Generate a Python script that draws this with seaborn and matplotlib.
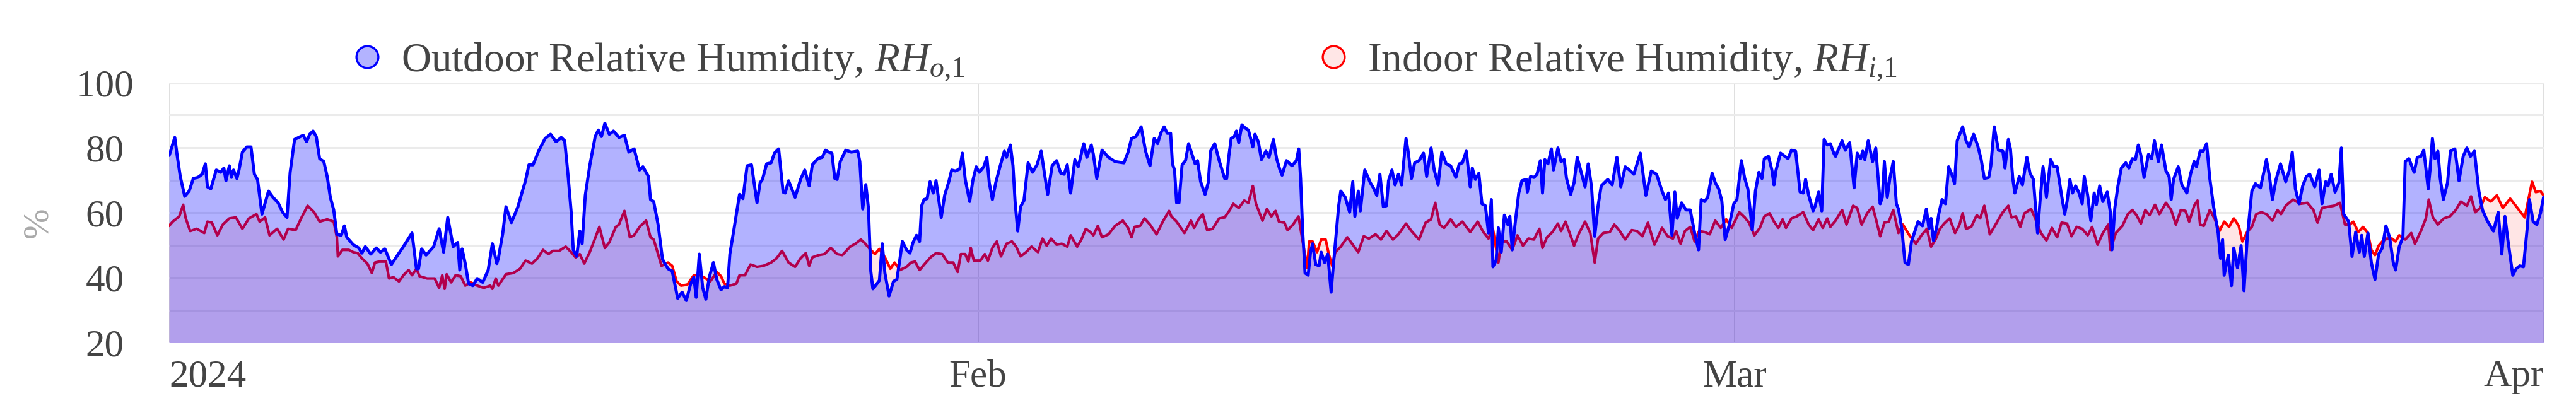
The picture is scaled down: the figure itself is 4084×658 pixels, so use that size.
import numpy as np
import pandas as pd
import matplotlib
matplotlib.use("Agg")
import matplotlib.pyplot as plt
from matplotlib.lines import Line2D
import seaborn as sns

# ---------------- data ----------------
start_date = "2024-01-01"

outdoor_day = [0, 0.02, 0.22, 0.31, 0.43, 0.6, 0.77, 0.93, 1.1, 1.27, 1.39, 1.47, 1.6, 1.81, 1.98, 2.1, 2.18, 2.31, 2.39, 2.47, 2.6, 2.68, 2.81, 2.98, 3.14, 3.27, 3.39, 3.56, 3.81, 3.98, 4.18, 4.35, 4.52, 4.64, 4.81, 5.14, 5.27, 5.39, 5.52, 5.64, 5.77, 5.93, 6.06, 6.18, 6.31, 6.43, 6.6, 6.72, 6.81, 7.06, 7.27, 7.39, 7.52, 7.73, 7.94, 8.1, 8.27, 8.52, 8.81, 8.98, 9.31, 9.48, 9.56, 9.68, 9.85, 10.14, 10.35, 10.52, 10.68, 10.89, 11.06, 11.14, 11.23, 11.35, 11.48, 11.64, 11.81, 12.02, 12.23, 12.39, 12.56,
               12.62, 12.79, 12.91, 13.12, 13.37, 13.54, 13.66, 13.79, 13.95, 14.16, 14.41, 14.62, 14.83, 15.03, 15.16, 15.28, 15.41, 15.49, 15.62, 15.74, 15.83, 15.95, 16.12, 16.33, 16.45, 16.57, 16.7, 16.87, 17.03, 17.24, 17.45, 17.62, 17.82, 18.03, 18.16, 18.37, 18.45, 18.57, 18.74, 18.91, 19.12, 19.28, 19.49, 19.66, 19.82, 19.99, 20.11, 20.2, 20.32, 20.45, 20.57, 20.7, 20.86, 20.99, 21.15, 21.28, 21.4, 21.49, 21.65, 21.86, 21.99, 22.15, 22.32, 22.53, 22.65, 22.74, 22.9, 23.07, 23.2, 23.36, 23.53, 23.61, 23.74, 23.99, 24.2, 24.36, 24.53, 24.65, 24.86, 25.03, 25.15, 25.28, 25.4,
               25.51, 25.6, 25.72, 25.93, 26.14, 26.39, 26.47, 26.58, 26.7, 26.8, 26.89, 26.97, 27.1, 27.22, 27.33, 27.43, 27.59, 27.76, 27.89, 28.01, 28.1, 28.26, 28.39, 28.51, 28.64, 28.76, 28.84, 28.93, 29.05, 29.16, 29.28, 29.39, 29.59, 29.72, 29.88, 29.99, 30.13, 30.3, 30.4, 30.51, 30.68, 30.8, 30.93, 31.05, 31.22, 31.34, 31.43, 31.55, 31.68, 31.84, 32.01, 32.09, 32.24, 32.34, 32.42, 32.52, 32.63, 32.76, 32.92, 33.09, 33.26, 33.42, 33.55, 33.67, 33.84, 34.01, 34.17, 34.3, 34.42, 34.55, 34.71, 34.84, 35.05, 35.17, 35.34, 35.42, 35.55, 35.75, 36.0, 36.25, 36.59, 36.75, 36.88, 37.05, 37.25, 37.42, 37.59, 37.75, 37.88, 38.0, 38.13, 38.25, 38.38,
               38.45, 38.53, 38.61, 38.7, 38.82, 38.95, 39.07, 39.2, 39.32, 39.41, 39.53, 39.7, 39.82, 39.91, 40.07, 40.24, 40.45, 40.53, 40.61, 40.7, 40.82, 40.9, 40.99, 41.11, 41.24, 41.36, 41.53, 41.61, 41.74, 41.86, 42.03, 42.15, 42.32, 42.44, 42.57, 42.65, 42.82, 43.03, 43.2, 43.29, 43.36, 43.44, 43.53, 43.65, 43.74, 43.82, 43.94, 44.07, 44.15, 44.28, 44.4, 44.53, 44.61, 44.69, 44.82, 44.9, 45.07, 45.24, 45.36, 45.44, 45.57, 45.65, 45.82, 46.03, 46.15, 46.28, 46.4, 46.53, 46.65, 46.73, 46.86, 46.98, 47.11, 47.23, 47.32, 47.4, 47.48, 47.61, 47.73, 47.9, 48.07, 48.19, 48.36, 48.48, 48.63, 48.77, 48.94, 49.11, 49.31, 49.44, 49.56, 49.71, 49.86, 49.94, 50.06, 50.19, 50.31, 50.44, 50.56, 50.67, 50.73, 50.85, 50.94,
               51.05, 51.17, 51.3, 51.38, 51.47, 51.59, 51.72, 51.84, 52.01, 52.05, 52.17, 52.3, 52.42, 52.55, 52.63, 52.72, 52.84, 52.97, 53.05, 53.22, 53.34, 53.46, 53.55, 53.71, 53.84, 53.96, 54.09, 54.26, 54.38, 54.51, 54.63, 54.76, 54.88, 55.13, 55.3, 55.48, 55.63, 55.8, 55.96, 56.13, 56.38, 56.59, 56.8, 57.0, 57.21, 57.34, 57.46, 57.59, 57.7, 57.79, 57.96, 58.13, 58.29, 58.46, 58.61, 58.71, 58.84, 58.96, 59.13, 59.25, 59.38, 59.5, 59.63, 59.79, 59.96, 60.08, 60.25, 60.38, 60.5, 60.67, 60.79, 60.92, 61.04, 61.13, 61.29, 61.42, 61.5, 61.58, 61.75, 61.87, 62.04, 62.17, 62.33, 62.5, 62.62, 62.71, 62.83, 63.0, 63.08, 63.21, 63.33, 63.42, 63.54, 63.66, 63.79,
               63.86, 63.94, 64.11, 64.23, 64.4, 64.57, 64.69, 64.82, 64.9, 64.98, 65.11, 65.28, 65.4, 65.57, 65.65, 65.73, 65.84, 65.94, 66.07, 66.19, 66.27, 66.4, 66.52, 66.65, 66.77, 66.9, 67.02, 67.19, 67.34, 67.44, 67.52, 67.61, 67.73, 67.82, 67.94, 68.07, 68.19, 68.31, 68.42, 68.52, 68.73, 68.86, 68.98, 69.15, 69.31, 69.44, 69.56, 69.73, 69.81, 69.94, 70.1, 70.27, 70.35, 70.48, 70.56, 70.65, 70.73, 70.9, 71.02, 71.19, 71.31, 71.44, 71.6, 71.7, 71.81, 71.94, 72.1, 72.23, 72.35, 72.52, 72.64, 72.73, 72.84, 72.94, 73.06, 73.19, 73.31, 73.39, 73.52, 73.64, 73.77, 73.85, 73.98, 74.1, 74.27, 74.39, 74.45, 74.56, 74.68, 74.81, 74.98, 75.1, 75.23, 75.35, 75.46, 75.56, 75.68, 75.85, 75.97, 76.08, 76.23, 76.35, 76.52, 76.64, 76.72, 76.81,
               76.99, 77.13, 77.32, 77.46, 77.6, 77.69, 77.83, 77.95, 78.08, 78.2, 78.34, 78.52, 78.61, 78.69, 78.75, 78.91, 79.03, 79.12, 79.26, 79.4, 79.51, 79.63, 79.81, 79.95, 80.14, 80.28, 80.37, 80.48, 80.6, 80.74, 80.91, 81.11, 81.25, 81.36, 81.48, 81.62, 81.76, 81.9, 82.03, 82.22, 82.39, 82.5, 82.64, 82.73, 82.85, 83.0, 83.15, 83.24, 83.33, 83.52, 83.65, 83.79, 83.93, 84.02, 84.12, 84.26, 84.39, 84.53, 84.67, 84.81, 84.95, 85.09, 85.23, 85.32, 85.46, 85.6, 85.69, 85.83, 86.03, 86.15, 86.29, 86.4, 86.57, 86.64, 86.73, 86.83, 86.94, 87.03, 87.15, 87.31, 87.42, 87.59, 87.75, 87.91, 88.05, 88.19, 88.34, 88.51, 88.65, 88.83, 89.07, 89.25, 89.39, 89.51, 89.62, 89.81, 89.94, 90.08, 90.22, 90.36, 90.45, 90.59, 90.73, 90.87, 90.99]

outdoor_rh = [77.6, 77.9, 83.1, 77.6, 71.1, 65.0, 66.6, 70.5, 70.8, 71.8, 75.0, 67.9, 67.3, 73.1, 72.4, 73.7, 69.8, 74.4, 70.8, 73.1, 70.5, 73.1, 78.6, 80.2, 80.2, 71.8, 70.2, 59.5, 66.6, 64.7, 63.0, 60.1, 58.5, 72.4, 82.5, 83.8, 81.8, 84.1, 85.1, 83.4, 76.6, 75.7, 71.1, 64.7, 60.8, 53.3, 53.0, 55.9, 52.4, 50.1, 49.1, 47.5, 49.5, 47.2, 49.1, 47.8, 48.8, 44.0, 47.5, 49.5, 53.7, 42.7, 42.7, 48.8, 46.9, 49.5, 55.0, 47.8, 58.5, 49.5, 50.8, 42.3, 48.8, 44.3, 38.1, 37.5, 39.7, 38.5, 42.3, 50.4, 44.3,
              45.9, 53.7, 61.8, 56.9, 61.8, 66.6, 69.8, 74.7, 74.7, 78.9, 82.8, 84.1, 81.8, 83.1, 82.1, 72.4, 60.1, 48.5, 46.5, 54.3, 50.4, 65.3, 74.4, 83.4, 85.4, 83.4, 87.5, 84.1, 85.1, 83.1, 83.8, 78.6, 79.6, 73.1, 74.1, 71.1, 64.0, 63.4, 56.3, 45.6, 42.7, 42.0, 33.6, 35.5, 32.9, 38.1, 40.1, 33.9, 47.2, 36.8, 33.3, 40.1, 44.6, 39.4, 36.2, 37.2, 36.8, 47.2, 55.0, 65.6, 64.3, 74.4, 74.7, 63.0, 69.2, 70.2, 75.0, 75.3, 78.3, 79.6, 66.3, 66.0, 69.8, 64.7, 70.2, 73.1, 68.2, 74.7, 76.6, 77.0, 79.2, 78.6, 78.3,
              70.5, 70.2, 75.7, 79.2, 78.6, 78.9, 75.7, 61.1, 68.6, 61.4, 42.0, 36.5, 37.8, 39.1, 50.4, 41.4, 34.3, 38.8, 39.4, 45.9, 51.1, 48.5, 47.5, 50.8, 53.0, 51.1, 62.1, 64.0, 64.3, 69.5, 66.0, 69.8, 58.5, 65.3, 69.5, 73.1, 72.8, 73.4, 78.3, 70.2, 63.4, 69.8, 74.1, 72.4, 74.1, 77.0, 69.2, 64.0, 69.2, 74.1, 78.9, 77.0, 80.8, 74.4, 63.4, 54.3, 61.8, 63.7, 75.3, 72.4, 74.7, 78.9, 71.8, 65.6, 74.4, 76.0, 72.1, 71.8, 74.7, 66.0, 76.3, 74.1, 81.2, 77.0, 80.8, 77.9, 70.5, 79.2, 77.0, 75.7, 75.3, 78.6, 82.8, 83.4, 86.4, 78.9, 74.4, 82.8, 81.2, 84.4, 86.4, 84.4, 84.4,
              75.0, 73.1, 63.0, 63.0, 74.7, 76.0, 81.2, 77.9, 75.0, 76.0, 69.5, 65.6, 69.2, 78.9, 81.2, 76.0, 70.5, 70.5, 77.3, 82.8, 83.4, 85.1, 81.5, 87.0, 86.0, 85.4, 80.2, 84.1, 81.8, 76.3, 78.9, 77.0, 82.5, 76.6, 73.1, 71.5, 76.0, 74.4, 76.0, 79.6, 70.5, 54.3, 41.4, 40.7, 47.8, 50.4, 44.0, 43.6, 47.8, 44.6, 47.2, 35.5, 43.3, 50.4, 62.1, 66.6, 64.7, 60.1, 69.5, 58.8, 66.6, 60.5, 73.1, 69.2, 67.6, 65.3, 71.8, 61.8, 62.1, 69.8, 73.1, 68.5, 71.8, 68.5, 76.3, 82.8, 78.9, 70.5, 75.3, 76.0, 78.3, 71.1, 79.9, 73.1, 68.5, 78.6, 75.0, 74.4, 70.8, 75.0, 75.3, 78.9, 67.9, 73.7, 70.2, 72.1, 62.7, 62.1, 53.7, 64.0, 43.3, 45.2, 55.3,
              47.8, 59.2, 56.3, 58.8, 48.5, 57.2, 66.0, 69.8, 70.2, 66.3, 71.1, 70.8, 71.8, 76.0, 66.0, 76.3, 75.0, 79.6, 73.1, 79.9, 75.7, 76.3, 70.5, 65.6, 69.2, 77.0, 73.1, 67.9, 75.0, 67.9, 52.7, 62.1, 68.2, 70.2, 68.5, 77.0, 67.9, 74.1, 73.1, 71.8, 78.3, 65.3, 72.8, 71.8, 66.6, 64.0, 66.0, 53.0, 66.3, 58.2, 63.0, 60.8, 60.8, 53.7, 48.5, 64.0, 63.4, 64.7, 72.1, 69.2, 67.3, 63.7, 51.7, 56.3, 62.7, 64.0, 76.0, 70.5, 67.3, 54.6, 66.6, 72.4, 70.5, 76.6, 77.3, 73.1, 68.5, 73.1, 78.3, 77.6, 76.6, 79.2, 78.9, 66.3, 66.0, 70.2, 65.3, 60.5, 62.1, 66.3, 60.5, 82.5, 80.8, 81.2, 78.3,
              77.3, 78.9, 82.1, 79.2, 81.5, 67.6, 78.3, 76.6, 78.9, 76.3, 82.1, 75.7, 79.9, 62.7, 64.7, 75.7, 64.7, 70.5, 75.7, 62.7, 61.1, 55.0, 44.6, 44.0, 51.1, 54.3, 57.2, 55.9, 61.1, 55.0, 58.2, 51.4, 55.3, 59.8, 64.0, 62.7, 74.1, 71.8, 68.9, 82.1, 86.4, 82.1, 80.2, 84.1, 80.5, 76.3, 70.5, 70.8, 74.4, 86.4, 79.2, 78.9, 73.7, 82.5, 79.6, 70.5, 66.0, 71.1, 68.5, 77.0, 72.1, 70.2, 53.7, 64.0, 74.1, 64.7, 76.3, 74.1, 74.1, 65.3, 59.5, 63.4, 70.2, 66.0, 68.2, 66.0, 62.7, 71.1, 65.3, 57.5, 66.0, 62.4, 68.2, 63.4, 66.3, 60.1, 48.5, 61.4, 68.2, 73.7, 75.3, 73.7, 76.6, 76.3, 80.8, 77.6, 70.8, 77.9, 76.6, 82.1, 75.7, 80.8, 72.8, 71.1, 64.0, 70.2,
              74.1, 68.5, 66.0, 71.8, 75.7, 74.1, 78.9, 78.9, 81.2, 70.5, 62.1, 53.7, 45.9, 51.7, 40.7, 46.9, 37.5, 49.1, 43.0, 49.8, 35.9, 51.7, 66.6, 68.9, 67.6, 72.8, 76.3, 71.5, 64.0, 70.2, 75.0, 69.5, 73.1, 78.6, 67.3, 62.7, 68.2, 71.1, 71.8, 67.9, 73.1, 62.7, 69.5, 68.2, 71.8, 66.3, 69.2, 79.9, 59.5, 57.2, 46.5, 54.0, 47.8, 53.0, 46.5, 53.7, 44.6, 39.4, 47.2, 49.1, 55.9, 52.4, 44.6, 42.3, 49.5, 52.4, 75.7, 76.6, 72.4, 77.0, 77.3, 79.2, 67.3, 73.1, 82.8, 76.6, 78.9, 70.5, 64.0, 69.2, 78.9, 79.6, 69.8, 77.3, 79.9, 77.3, 78.9, 66.6, 60.8, 57.5, 54.3, 60.1, 47.2, 58.8, 51.7, 40.7, 42.7, 43.6, 43.3, 55.0, 64.0, 57.2, 56.3, 59.8, 64.7]

indoor_day = [0, 0.14, 0.39, 0.54, 0.64, 0.81, 1.06, 1.35, 1.47, 1.64, 1.85, 2.06, 2.31, 2.56, 2.81, 3.06, 3.35, 3.47, 3.68, 3.85, 4.14, 4.39, 4.56, 4.85, 5.06, 5.31, 5.56, 5.77, 6.06, 6.31, 6.43, 6.47, 6.64, 6.89, 7.06, 7.23, 7.39, 7.6, 7.77, 7.89, 8.06, 8.31, 8.43, 8.6, 8.81, 8.98, 9.18, 9.31, 9.48, 9.6, 9.89, 10.18, 10.35, 10.47, 10.56, 10.64, 10.81, 10.98, 11.18, 11.35, 11.56, 11.81, 12.06, 12.31, 12.39, 12.52,
              12.62, 12.91, 13.2, 13.45, 13.66, 13.91, 14.12, 14.33, 14.54, 14.7, 14.95, 15.2, 15.41, 15.58, 15.74, 15.91, 16.12, 16.28, 16.49, 16.7, 16.87, 17.12, 17.24, 17.45, 17.66, 17.82, 18.03, 18.28, 18.45, 18.57, 18.74, 18.87, 19.12, 19.28, 19.45, 19.62, 19.86, 20.11, 20.36, 20.57, 20.74, 20.99, 21.15, 21.28, 21.49, 21.74, 21.86, 22.07, 22.28, 22.53, 22.78, 23.07, 23.28, 23.49, 23.74, 23.99, 24.2, 24.4, 24.53, 24.65, 24.9, 25.11, 25.36,
              25.6, 25.8, 26.1, 26.3, 26.51, 26.68, 26.85, 27.05, 27.22, 27.43, 27.64, 27.8, 28.01, 28.26, 28.43, 28.59, 28.76, 28.97, 29.18, 29.39, 29.63, 29.84, 30.05, 30.22, 30.34, 30.51, 30.63, 30.72, 30.84, 31.09, 31.26, 31.38, 31.55, 31.72, 31.88, 32.09, 32.3, 32.46, 32.63, 32.84, 33.05, 33.3, 33.47, 33.63, 33.8, 34.01, 34.21, 34.42, 34.55, 34.8, 34.96, 35.13, 35.3, 35.42, 35.59, 35.75, 36.0, 36.25, 36.55, 36.75, 36.88, 37.0, 37.21, 37.38, 37.59, 37.84, 38.08, 38.32,
              38.41, 38.61, 38.91, 39.16, 39.28, 39.45, 39.61, 39.78, 39.99, 40.24, 40.45, 40.65, 40.78, 40.99, 41.2, 41.36, 41.53, 41.65, 41.9, 42.07, 42.24, 42.4, 42.53, 42.74, 42.86, 43.07, 43.28, 43.36, 43.44, 43.61, 43.69, 43.82, 43.99, 44.15, 44.32, 44.44, 44.57, 44.69, 44.9, 45.15, 45.36, 45.57, 45.78, 45.98, 46.23, 46.44, 46.65, 46.9, 47.11, 47.4, 47.61, 47.9, 48.15, 48.36, 48.52, 48.69, 48.86, 49.11, 49.31, 49.56, 49.86, 50.15, 50.36, 50.56, 50.73, 50.94,
              51.05, 51.26, 51.47, 51.67, 51.88, 52.09, 52.3, 52.51, 52.63, 52.8, 53.01, 53.22, 53.34, 53.51, 53.67, 53.84, 54.01, 54.26, 54.46, 54.63, 54.76, 54.96, 55.21, 55.38, 55.59, 55.8, 56.05, 56.25, 56.46, 56.67, 56.92, 57.21, 57.42, 57.63, 57.75, 57.92, 58.09, 58.29, 58.46, 58.63, 58.84, 59.04, 59.25, 59.46, 59.67, 59.88, 60.17, 60.38, 60.54, 60.75, 60.96, 61.13, 61.33, 61.5, 61.67, 61.83, 61.96, 62.17, 62.37, 62.62, 62.83, 63.0, 63.21, 63.37, 63.54, 63.66,
              63.86, 64.11, 64.28, 64.53, 64.69, 64.86, 65.07, 65.28, 65.4, 65.57, 65.73, 65.9, 66.07, 66.27, 66.44, 66.69, 66.94, 67.15, 67.36, 67.52, 67.69, 67.86, 68.02, 68.23, 68.44, 68.61, 68.73, 68.86, 69.06, 69.27, 69.4, 69.56, 69.77, 69.94, 70.15, 70.27, 70.48, 70.6, 70.77, 70.94, 71.1, 71.35, 71.48, 71.73, 71.94, 72.15, 72.35, 72.52, 72.73, 72.9, 73.1, 73.31, 73.52, 73.69, 73.9, 74.1, 74.31, 74.39, 74.6, 74.85, 75.06, 75.23, 75.39, 75.56, 75.73, 75.89, 76.1, 76.27, 76.52, 76.72,
              76.9, 77.09, 77.27, 77.41, 77.6, 77.73, 77.83, 77.97, 78.2, 78.38, 78.57, 78.75, 78.94, 79.12, 79.31, 79.45, 79.63, 79.81, 79.98, 80.18, 80.37, 80.6, 80.79, 80.93, 81.11, 81.39, 81.67, 81.94, 82.17, 82.33, 82.5, 82.73, 82.96, 83.19, 83.38, 83.56, 83.7, 83.89, 84.07, 84.26, 84.39, 84.53, 84.67, 84.81, 84.99, 85.18, 85.32, 85.46, 85.69, 85.92, 86.06, 86.29, 86.48, 86.59, 86.75, 86.94, 87.17, 87.4, 87.63, 87.82, 88.05, 88.21, 88.37, 88.56, 88.74, 88.97, 89.2, 89.43, 89.71, 89.99, 90.27, 90.36, 90.55, 90.69, 90.87, 90.99]

indoor_rh = [55.9, 57.2, 58.8, 62.4, 58.2, 54.3, 55.0, 53.7, 57.2, 56.9, 53.0, 56.3, 58.2, 58.5, 55.0, 58.2, 59.5, 57.2, 58.5, 53.0, 55.0, 51.7, 55.0, 54.6, 58.2, 62.1, 60.1, 57.2, 57.9, 57.2, 52.4, 46.5, 48.5, 48.5, 47.8, 47.5, 45.9, 44.3, 41.4, 44.6, 44.9, 44.9, 39.7, 40.1, 38.8, 40.7, 42.3, 40.7, 42.7, 40.4, 39.7, 39.7, 36.8, 40.7, 36.5, 41.0, 38.5, 40.7, 40.4, 37.5, 38.5, 37.5, 36.8, 37.5, 36.5, 39.7,
             37.5, 41.0, 41.4, 42.7, 45.2, 44.3, 45.9, 48.5, 47.2, 48.2, 48.2, 49.5, 47.8, 46.2, 47.2, 44.3, 47.8, 51.1, 55.6, 49.1, 50.8, 55.6, 56.3, 60.5, 52.4, 53.0, 55.6, 57.5, 52.4, 51.7, 47.2, 43.6, 44.6, 43.6, 38.8, 37.5, 37.8, 40.7, 40.7, 39.7, 38.8, 41.7, 40.4, 38.1, 37.5, 38.1, 40.7, 40.7, 44.0, 43.3, 43.6, 44.6, 45.9, 48.2, 44.6, 43.3, 45.9, 47.5, 43.6, 46.2, 46.9, 47.2, 49.1,
             47.2, 46.9, 49.5, 50.4, 51.7, 50.4, 48.8, 47.2, 48.8, 46.2, 42.7, 44.6, 42.3, 43.3, 44.6, 44.9, 42.3, 44.3, 46.2, 47.5, 47.2, 44.6, 44.6, 41.7, 47.2, 47.2, 44.9, 49.1, 45.2, 45.2, 47.2, 45.2, 49.1, 51.1, 46.5, 50.4, 51.1, 49.5, 46.5, 47.8, 49.5, 47.8, 52.0, 49.8, 52.0, 50.1, 50.4, 49.5, 53.0, 49.5, 51.7, 55.0, 54.0, 53.0, 55.9, 52.4, 53.3, 55.9, 57.5, 55.3, 52.4, 55.6, 55.9, 58.2, 56.3, 53.3, 57.2, 60.5,
             58.8, 57.2, 53.7, 57.5, 55.3, 57.9, 59.5, 54.6, 55.0, 58.2, 58.5, 60.8, 62.7, 61.4, 63.7, 63.0, 68.2, 62.7, 57.5, 61.1, 58.8, 60.5, 57.2, 56.9, 54.6, 56.3, 58.8, 55.0, 51.1, 43.0, 51.1, 51.1, 47.8, 51.7, 51.7, 47.2, 43.6, 47.8, 49.5, 52.4, 50.1, 47.8, 52.7, 52.0, 53.3, 51.7, 54.3, 51.7, 53.3, 56.6, 54.3, 51.7, 56.9, 57.9, 63.0, 56.3, 55.3, 57.9, 55.6, 57.2, 54.0, 57.2, 54.0, 52.0, 55.0, 44.6,
             51.1, 51.1, 48.5, 53.0, 49.8, 52.0, 51.7, 55.0, 49.1, 52.4, 54.0, 56.6, 54.3, 57.2, 53.7, 49.8, 53.3, 57.2, 53.7, 44.6, 52.0, 53.7, 54.0, 56.3, 54.3, 51.7, 54.6, 54.3, 52.7, 56.9, 50.1, 55.3, 52.7, 52.0, 54.3, 50.4, 54.3, 55.6, 51.1, 54.3, 54.0, 53.3, 57.5, 55.3, 57.9, 55.3, 60.1, 58.5, 56.9, 53.0, 55.3, 58.8, 59.8, 57.2, 55.3, 57.9, 55.3, 58.2, 58.8, 60.1, 56.3, 54.6, 57.9, 55.3, 58.2, 55.6,
             57.5, 60.8, 56.3, 62.1, 61.4, 56.3, 59.8, 61.8, 58.2, 52.7, 56.9, 57.2, 60.8, 53.7, 56.3, 53.0, 50.4, 53.0, 55.0, 49.5, 51.7, 55.0, 56.6, 58.2, 53.7, 56.3, 59.8, 55.0, 55.6, 59.2, 58.2, 62.1, 53.3, 55.6, 58.5, 60.1, 62.1, 58.5, 58.8, 55.6, 59.8, 61.1, 58.8, 53.7, 51.4, 55.3, 52.4, 56.9, 56.6, 52.7, 55.6, 55.0, 53.0, 55.6, 50.1, 53.7, 56.3, 48.5, 53.7, 55.9, 59.5, 60.8, 59.2, 56.6, 60.8, 59.2, 62.4, 59.5, 63.0, 60.8,
             56.3, 60.8, 60.5, 57.2, 62.1, 63.7, 56.3, 55.9, 60.8, 58.2, 54.3, 57.2, 55.6, 58.2, 55.9, 51.1, 54.0, 55.6, 59.5, 60.1, 59.5, 57.5, 60.8, 59.5, 62.1, 64.0, 62.7, 63.0, 60.8, 56.9, 61.4, 61.8, 62.1, 63.0, 56.3, 56.3, 57.2, 54.0, 55.6, 53.7, 48.5, 46.9, 49.8, 51.1, 52.0, 52.0, 51.1, 53.0, 51.7, 53.7, 50.4, 54.3, 58.2, 64.0, 58.5, 56.3, 58.2, 58.8, 60.8, 63.4, 62.1, 65.0, 60.1, 61.4, 64.7, 63.4, 65.3, 61.4, 64.3, 61.4, 58.5, 62.1, 69.5, 66.3, 66.6, 65.3]

tick_dates = ["2024-01-01", "2024-02-01", "2024-03-01", "2024-04-01"]
tick_labels = ["2024", "Feb", "Mar", "Apr"]
y_ticks = [20, 30, 40, 50, 60, 70, 80, 90, 100]
y_tick_labels = ["20", "", "40", "", "60", "", "80", "", "100"]
legend_labels = ["Outdoor Relative Humidity, $RH_{o{,}1}$",
                 "Indoor Relative Humidity, $RH_{i{,}1}$"]
y_title = "%"

# ---------------- styling ----------------
sns.set_theme(style="white")
plt.rcParams["font.family"] = ["Liberation Serif", "DejaVu Serif"]
plt.rcParams["mathtext.fontset"] = "custom"
plt.rcParams["mathtext.rm"] = "Liberation Serif"
plt.rcParams["mathtext.it"] = "Liberation Serif:italic"

W, H = 4084, 658
t0 = pd.Timestamp(start_date)
out_df = pd.DataFrame({"time": t0 + pd.to_timedelta(outdoor_day, unit="D"), "rh": outdoor_rh})
in_df = pd.DataFrame({"time": t0 + pd.to_timedelta(indoor_day, unit="D"), "rh": indoor_rh})

fig = plt.figure(figsize=(W / 100, H / 100), dpi=100)
fig.patch.set_facecolor("white")
ax = fig.add_axes([268 / W, 115 / H, 3765 / W, 412 / H])
ax.set_facecolor("white")

# indoor first (red), then outdoor (blue) over it
ax.fill_between(in_df["time"], 0, in_df["rh"], color=(1.0, 0.0, 0.0), alpha=0.10, lw=0, zorder=2)
sns.lineplot(data=in_df, x="time", y="rh", ax=ax, color="#ff0000", lw=3.0, zorder=3)
ax.fill_between(out_df["time"], 0, out_df["rh"], color=(0.0, 0.0, 1.0), alpha=0.30, lw=0, zorder=4)
sns.lineplot(data=out_df, x="time", y="rh", ax=ax, color="#0000ff", lw=3.5, zorder=5)

ax.set_ylim(20, 100)
ax.set_xlim(pd.Timestamp(tick_dates[0]), pd.Timestamp(tick_dates[-1]))
ax.set_yticks(y_ticks, labels=y_tick_labels)
ax.set_xticks([pd.Timestamp(d) for d in tick_dates], labels=tick_labels)

for s in ax.spines.values():
    s.set_visible(False)

ax.set_axisbelow(True)
ax.grid(axis="y", color="#ebebeb", lw=2.2)
ax.grid(axis="x", color="#dcdcdc", lw=1.3)

ax.tick_params(axis="y", length=9.4, width=1.6, color="#e6e6e6", pad=64,
               labelsize=44, labelcolor="#444444")
ax.tick_params(axis="x", length=7.2, width=1.2, color="#e0e0e0", pad=12,
               labelsize=44, labelcolor="#444444")
for lbl in ax.get_yticklabels():
    lbl.set_horizontalalignment("center")
xl = ax.get_xticklabels()
xl[0].set_horizontalalignment("left")
xl[-1].set_horizontalalignment("right")

ax.set_xlabel("")
ax.set_ylabel(y_title, fontsize=42, color="#aaaaaa")
ax.yaxis.set_label_coords((86 - 268) / 3765, (543 - 353) / 412)

# legend: two entries placed at their own positions
h_out = Line2D([], [], ls="none", marker="o", markersize=25, markeredgewidth=2.4,
               markerfacecolor="#b3b3ff", markeredgecolor="#0000ff")
h_in = Line2D([], [], ls="none", marker="o", markersize=25, markeredgewidth=2.4,
              markerfacecolor="#ffe6e6", markeredgecolor="#ff0000")
fs = 47
for h, lab, mx in [(h_out, legend_labels[0], 582), (h_in, legend_labels[1], 2114)]:
    hl = 0.56
    left_px = mx - hl * fs / 0.72 / 2
    leg = fig.legend([h], [lab], loc="center left",
                     bbox_to_anchor=(left_px / W, 1 - 98 / H),
                     frameon=False, fontsize=fs, handlelength=hl,
                     handletextpad=0.55, borderpad=0, borderaxespad=0)
    for t in leg.get_texts():
        t.set_color("#444444")

fig.savefig("out.png", dpi=100, facecolor="white")
